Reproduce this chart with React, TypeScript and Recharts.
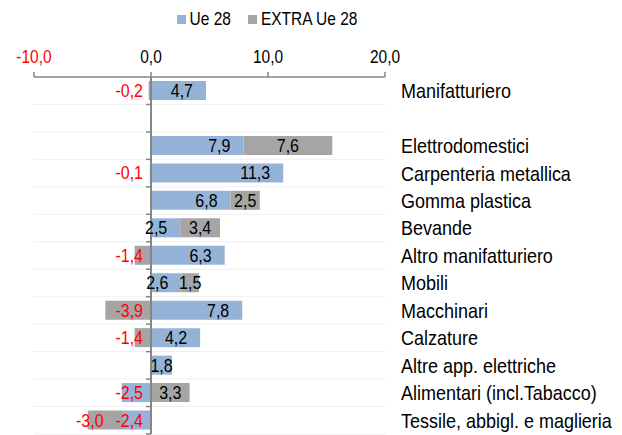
import React from 'react';
import { BarChart, Bar, XAxis, YAxis, CartesianGrid, ReferenceLine, Legend, LabelList } from 'recharts';

const categories = [
  'Manifatturiero',
  ' ',
  'Elettrodomestici',
  'Carpenteria metallica',
  'Gomma plastica',
  'Bevande',
  'Altro manifatturiero',
  'Mobili',
  'Macchinari',
  'Calzature',
  'Altre app. elettriche',
  'Alimentari (incl.Tabacco)',
  'Tessile, abbigl. e maglieria',
];
const ue28 = [4.7, null, 7.9, 11.3, 6.8, 2.5, 6.3, 2.6, 7.8, 4.2, 1.8, -2.5, -2.4];
const extraUe28 = [-0.2, null, 7.6, -0.1, 2.5, 3.4, -1.4, 1.5, -3.9, -1.4, null, 3.3, -3.0];
const xTicks = [-10, 0, 10, 20];

const BLUE = '#95B3D7';
const GREY = '#A5A5A5';
const AXIS = '#868686';
const FONT = '"Liberation Sans", Arial, sans-serif';
const STRETCH = 1.15; // source text is a bit taller than wide

const data = categories.map((name, i) => ({ name, ue: ue28[i], extra: extraUe28[i] }));

const fmt = (v: number) => v.toFixed(1).replace('.', ',');
const tall = (cy: number) => `translate(0 ${cy}) scale(1 ${STRETCH}) translate(0 ${-cy})`;

// label placement roughly as in the source chart
const makeLabel = (kind: 'ue' | 'extra') => (props: any) => {
  const vb = props.viewBox ?? props;
  const row = props.value;
  if (!row) return null;
  const v = kind === 'ue' ? row.ue : row.extra;
  if (v == null || typeof v !== 'number') return null;
  const left = Math.min(vb.x, vb.x + vb.width);
  const right = Math.max(vb.x, vb.x + vb.width);
  const w = Math.abs(vb.width);
  const cy = vb.y + vb.height / 2;
  let tx = left + w / 2;
  let anchor = 'middle';
  if (v < 0) {
    if (kind === 'extra' && row.ue < 0) {
      tx = left + 2;
    } else {
      tx = right - 8;
      anchor = 'end';
    }
  } else if (kind === 'ue' && w >= 25) {
    tx = right - 13;
    anchor = 'end';
  }
  return (
    <text x={tx} y={cy} dy="0.36em" textAnchor={anchor} fontSize={16} fontFamily={FONT}
      transform={tall(cy)} fill={v < 0 ? '#FF0000' : '#000000'}>
      {fmt(v)}
    </text>
  );
};

const XTick = (p: any) => {
  const v = p.payload.value;
  return (
    <text x={p.x} y={p.y} textAnchor="middle" fontSize={15.5} fontFamily={FONT}
      transform={tall(p.y)} fill={v < 0 ? '#FF0000' : '#000000'}>
      {fmt(v)}
    </text>
  );
};

const YTick = (p: any) => (
  <text x={p.x} y={p.y} dy="0.36em" textAnchor="start" fontSize={18} fontFamily={FONT}
    transform={tall(p.y)} fill="#000000">
    {p.payload.value}
  </text>
);

// zero line with the small category tick marks on its left side
const ZeroLine = (p: any) => {
  const { x1, y1, y2 } = p;
  const n = categories.length;
  const marks = [];
  for (let i = 1; i <= n; i++) {
    const y = y1 + ((y2 - y1) * i) / n;
    marks.push(<line key={i} x1={x1 - 5} x2={x1} y1={y} y2={y} stroke={AXIS} strokeWidth={1.5} />);
  }
  return (
    <g>
      <line x1={x1} x2={x1} y1={y1} y2={y2} stroke={AXIS} strokeWidth={2} />
      {marks}
    </g>
  );
};

const LegendBox = () => (
  <div style={{ display: 'flex', justifyContent: 'center', alignItems: 'center', fontFamily: FONT, fontSize: 15.5, lineHeight: '22px', color: '#000' }}>
    <span style={{ width: 9, height: 9, background: BLUE, display: 'inline-block', marginRight: 4 }} />
    <span style={{ marginRight: 17, display: 'inline-block', transform: `scaleY(${STRETCH})` }}>Ue 28</span>
    <span style={{ width: 9, height: 9, background: GREY, display: 'inline-block', marginRight: 4 }} />
    <span style={{ display: 'inline-block', transform: `scaleY(${STRETCH})` }}>EXTRA Ue 28</span>
  </div>
);

const rowOf = (d: any) => d;

export default function App() {
  return (
    <div style={{ position: 'absolute', left: 0, top: 0, width: 622, height: 435, background: '#fff' }}>
      <BarChart
        width={622}
        height={435}
        data={data}
        layout="vertical"
        stackOffset="sign"
        barSize={19}
        margin={{ top: 47, right: 0, bottom: 1, left: 34 }}
        style={{ fontFamily: FONT }}
      >
        <CartesianGrid
          vertical={false}
          stroke="#EFEFEF"
          horizontalCoordinatesGenerator={({ offset }: any) =>
            categories.map((_, i) => offset.top + (offset.height * (i + 1)) / categories.length)
          }
        />
        <XAxis
          type="number"
          orientation="top"
          domain={[-10, 20]}
          ticks={xTicks}
          allowDataOverflow
          height={30}
          tickSize={5}
          tickMargin={9}
          stroke={AXIS}
          axisLine={{ stroke: AXIS, strokeWidth: 1.5 }}
          tickLine={{ stroke: AXIS, strokeWidth: 1.5 }}
          tick={<XTick />}
        />
        <YAxis
          type="category"
          dataKey="name"
          orientation="right"
          width={237}
          axisLine={false}
          tickLine={false}
          tickMargin={10}
          interval={0}
          tick={<YTick />}
        />
        <Legend
          layout="horizontal"
          verticalAlign="middle"
          align="center"
          wrapperStyle={{ top: 8, left: 0, width: 534, height: 22 }}
          content={() => <LegendBox />}
        />
        <Bar dataKey="ue" name="Ue 28" stackId="a" fill={BLUE} isAnimationActive={false}>
          <LabelList dataKey={rowOf} content={makeLabel('ue')} />
        </Bar>
        <Bar dataKey="extra" name="EXTRA Ue 28" stackId="a" fill={GREY} isAnimationActive={false}>
          <LabelList dataKey={rowOf} content={makeLabel('extra')} />
        </Bar>
        <ReferenceLine x={0} stroke={AXIS} shape={ZeroLine} ifOverflow="extendDomain" />
      </BarChart>
    </div>
  );
}
